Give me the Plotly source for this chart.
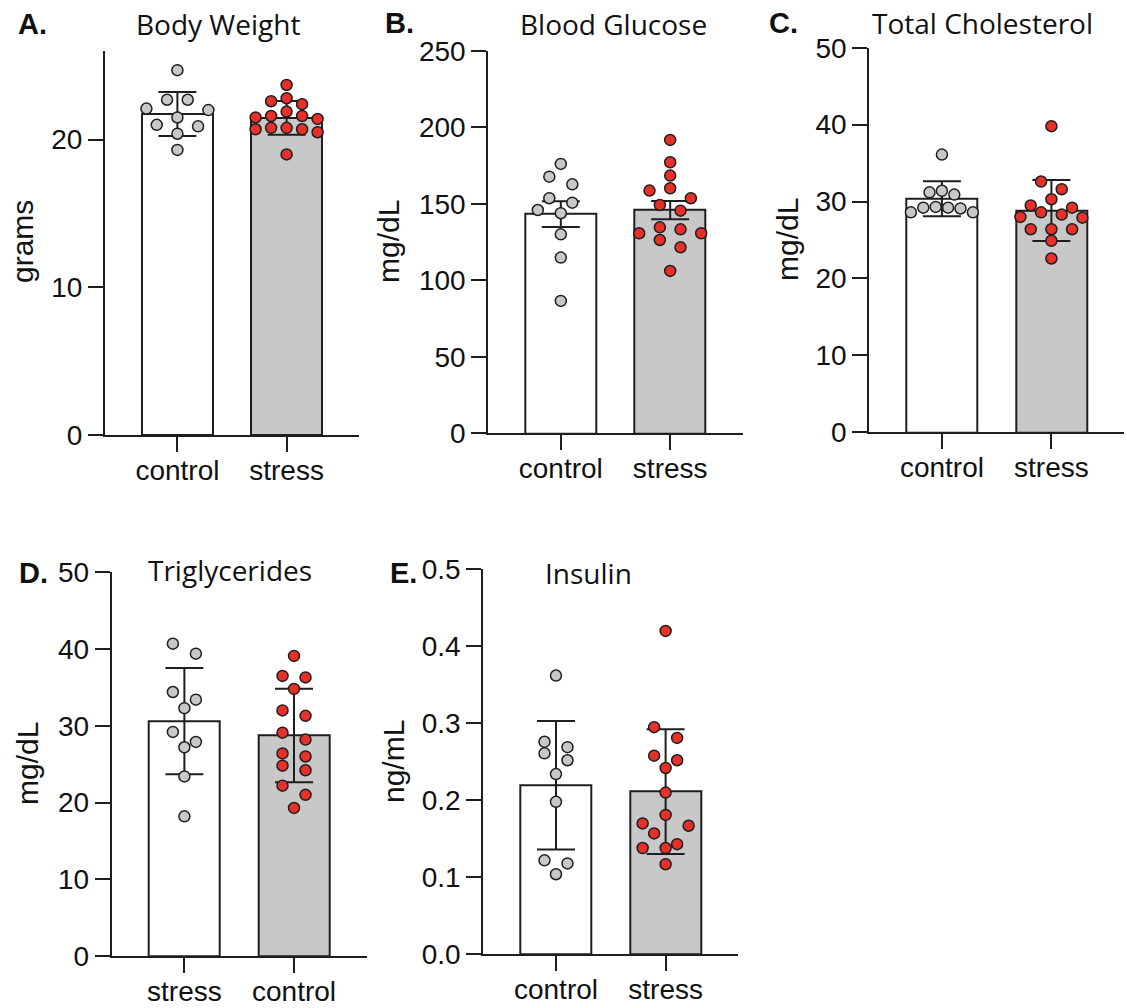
import numpy as np
import plotly.graph_objects as go

# ---------------- data ----------------
cats_main = ["control", "stress"]
cats_tg = ["stress", "control"]

bw_control = [24.7, 22.7, 22.7, 22.1, 22.0, 21.5, 21.0, 20.9, 20.4, 19.3]
bw_stress = [23.7, 22.8, 22.6, 22.4, 21.9, 21.6, 21.6, 21.5, 21.4, 20.8, 20.8, 20.7, 20.7, 20.5, 19.0]

glu_control = [176.0, 167.7, 162.7, 153.6, 150.7, 145.9, 143.8, 130.0, 114.8, 86.5]
glu_stress = [191.7, 177.1, 168.4, 160.1, 158.6, 153.6, 149.2, 145.5, 134.6, 133.3,
              130.7, 130.7, 126.3, 121.5, 106.1]

chol_control = [36.1, 31.4, 31.2, 30.9, 29.3, 29.2, 29.2, 29.1, 28.6, 28.6]
chol_stress = [39.8, 32.6, 31.6, 30.3, 29.5, 29.2, 28.6, 28.3, 28.0, 27.9,
               26.4, 26.4, 26.4, 24.9, 22.6]

tg_first = [40.7, 39.4, 34.4, 33.4, 32.3, 29.2, 27.9, 27.2, 23.4, 18.2]
tg_second = [39.1, 36.5, 36.3, 34.8, 32.0, 31.3, 29.1, 28.2, 26.4, 26.0,
             24.8, 24.2, 22.2, 21.0, 19.3]

ins_control = [0.362, 0.276, 0.269, 0.261, 0.252, 0.234, 0.198, 0.122, 0.118, 0.104]
ins_stress = [0.420, 0.295, 0.281, 0.258, 0.252, 0.242, 0.210, 0.181, 0.170, 0.167,
              0.157, 0.143, 0.138, 0.138, 0.117]

# ---------------- styling / layout ----------------
W, H = 1127, 1008
INK = "#1e1e1e"
GRAY = "#c8c8c8"
RED = "#e8302a"
TICK_FONT = dict(family="Liberation Sans, Arial, sans-serif", size=28, color="#111")
TITLE_FONT = dict(family="Open Sans, sans-serif", size=28, color="#111")
LETTER_FONT = dict(family="Liberation Sans, Arial, sans-serif", size=29, color="#111")
AXT_FONT = dict(family="Liberation Sans, Arial, sans-serif", size=30, color="#111")

XR = [-0.663, 1.663]
DIAM = 11.5       # marker footprint in px
SPREAD = 62       # max horizontal spread of a row of points, px
SMAX = 23         # max spacing between neighbours in a row, px

panels = [
    dict(letter="A.", title="Body Weight", ytitle="grams", cats=cats_main,
         data=[bw_control, bw_stress], err="sd", yr=[0, 26], dtick=10, fmt="",
         box=(105, 359, 51, 435), title_x=218, title_y=24, letter_x=16, letter_y=24,
         yt=(22, 242)),
    dict(letter="B.", title="Blood Glucose", ytitle="mg/dL", cats=cats_main,
         data=[glu_control, glu_stress], err="sem", yr=[0, 250], dtick=50, fmt="",
         box=(488.3, 742.7, 50.7, 433.3), title_x=613.5, title_y=24, letter_x=383, letter_y=23,
         yt=(388, 242)),
    dict(letter="C.", title="Total Cholesterol", ytitle="mg/dL", cats=cats_main,
         data=[chol_control, chol_stress], err="sd", yr=[0, 50], dtick=10, fmt="",
         box=(869.3, 1124, 47.7, 432.3), title_x=982, title_y=23, letter_x=767, letter_y=23,
         yt=(787, 240)),
    dict(letter="D.", title="Triglycerides", ytitle="mg/dL", cats=cats_tg,
         data=[tg_first, tg_second], err="sd", yr=[0, 50], dtick=10, fmt="",
         box=(111.7, 366.7, 572.3, 956), title_x=230, title_y=570, letter_x=17, letter_y=573,
         yt=(27, 764)),
    dict(letter="E.", title="Insulin", ytitle="ng/mL", cats=cats_main,
         data=[ins_control, ins_stress], err="sd", yr=[0, 0.5], dtick=0.1, fmt=".1f",
         box=(483.3, 738.3, 569.3, 954.3), title_x=588, title_y=573, letter_x=388, letter_y=573,
         yt=(393, 762)),
]


def row_scatter(vals, y_ppu):
    """Prism-like scatter spread: group points into rows by vertical proximity,
    centre each row, shift a row sideways if it would collide with earlier points."""
    vals = np.asarray(vals, dtype=float)
    order = list(np.argsort(-vals, kind="stable"))
    rows = []
    for i in order:
        if rows and (vals[rows[-1][0]] - vals[i]) * y_ppu < DIAM:
            rows[-1].append(i)
        else:
            rows.append([i])
    n_max = max(len(r) for r in rows)
    s = SMAX if n_max < 2 else min(SMAX, SPREAD / (n_max - 1))
    xs = np.zeros(len(vals))
    placed = []
    for row in rows:
        n = len(row)
        base = sorted([(k - (n - 1) / 2) * s for k in range(n)], key=lambda x: (abs(x), x))
        shifts = [0.0]
        for m in range(1, 8):
            shifts += [-m * s / 2, m * s / 2]
        for sh in shifts:
            ok = True
            for i, bx in zip(row, base):
                y = vals[i] * y_ppu
                for (px, py) in placed:
                    if (bx + sh - px) ** 2 + (y - py) ** 2 < DIAM ** 2:
                        ok = False
                        break
                if not ok:
                    break
            if ok:
                break
        for i, bx in zip(row, base):
            xs[i] = bx + sh
            placed.append((xs[i], vals[i] * y_ppu))
    return xs


fig = go.Figure()
annotations = []

for k, p in enumerate(panels):
    idx = "" if k == 0 else str(k + 1)
    xa, ya = "x" + idx, "y" + idx
    x0, x1, y0, y1 = p["box"]
    w_px, h_px = x1 - x0, y1 - y0
    x_ppu = w_px / (XR[1] - XR[0])
    y_ppu = h_px / (p["yr"][1] - p["yr"][0])

    means, errs = [], []
    for d in p["data"]:
        a = np.asarray(d, dtype=float)
        sd = a.std(ddof=1)
        means.append(a.mean())
        errs.append(sd / np.sqrt(len(a)) if p["err"] == "sem" else sd)

    fig.add_trace(go.Bar(
        x=[0, 1], y=means, width=0.65, xaxis=xa, yaxis=ya,
        marker=dict(color=["white", GRAY], line=dict(color=INK, width=2)),
        error_y=dict(type="data", array=errs, visible=True, color=INK, thickness=2, width=19),
        showlegend=False, hoverinfo="skip",
    ))

    for j, d in enumerate(p["data"]):
        offs = row_scatter(d, y_ppu) / x_ppu
        fig.add_trace(go.Scatter(
            x=j + offs, y=d, mode="markers", xaxis=xa, yaxis=ya,
            marker=dict(size=11, color=GRAY if j == 0 else RED,
                        line=dict(color=INK, width=1.5)),
            showlegend=False, hoverinfo="skip", cliponaxis=False,
        ))

    fig.update_layout({
        "xaxis" + idx: dict(
            domain=[x0 / W, x1 / W], range=XR, anchor=ya, automargin=False,
            tickmode="array", tickvals=[0, 1], ticktext=p["cats"],
            showline=True, linecolor=INK, linewidth=2, ticks="outside",
            ticklen=15, tickwidth=2, tickcolor=INK, showgrid=False, zeroline=False,
            tickfont=TICK_FONT, fixedrange=True, ticklabelstandoff=-6,
        ),
        "yaxis" + idx: dict(
            domain=[1 - y1 / H, 1 - y0 / H], range=p["yr"], anchor=xa, automargin=False,
            dtick=p["dtick"], tick0=0, tickformat=p["fmt"],
            showline=True, linecolor=INK, linewidth=2, ticks="outside",
            ticklen=15, tickwidth=2, tickcolor=INK, showgrid=False, zeroline=False,
            tickfont=TICK_FONT, fixedrange=True,
        ),
    })

    annotations.append(dict(text=p["title"], x=p["title_x"] / W, y=1 - p["title_y"] / H,
                            xref="paper", yref="paper", xanchor="center", yanchor="middle",
                            showarrow=False, font=TITLE_FONT))
    annotations.append(dict(text="<b>" + p["letter"] + "</b>", x=p["letter_x"] / W,
                            y=1 - p["letter_y"] / H, xref="paper", yref="paper",
                            xanchor="left", yanchor="middle", showarrow=False, font=LETTER_FONT))
    annotations.append(dict(text=p["ytitle"], x=p["yt"][0] / W, y=1 - p["yt"][1] / H,
                            xref="paper", yref="paper", xanchor="center", yanchor="middle",
                            textangle=-90, showarrow=False, font=AXT_FONT))

fig.update_layout(
    template="none",
    width=W, height=H, margin=dict(l=0, r=0, t=0, b=0, pad=0, autoexpand=False),
    paper_bgcolor="white", plot_bgcolor="white",
    annotations=annotations, bargap=0,
)

fig.write_html(
    "out.html",
    config={"displayModeBar": False},
    post_script="document.body.style.margin='0px';document.body.style.overflow='hidden';",
)
